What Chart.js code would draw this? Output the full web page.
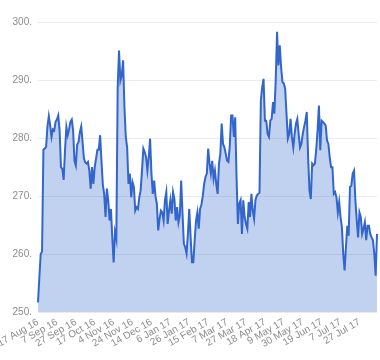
<!DOCTYPE html>
<html>
<head>
<meta charset="utf-8">
<script src="https://cdn.jsdelivr.net/npm/chart.js@4/dist/chart.umd.min.js"></script>
<style>
html,body{margin:0;padding:0;background:#fff;}
canvas{display:block;}
</style>
</head>
<body>
<canvas id="c" width="380" height="360"></canvas>
<script>
// Tick labels shown every 14 trading days
const tickLabels = ["17 Aug 16","7 Sep 16","27 Sep 16","17 Oct 16","4 Nov 16","24 Nov 16","14 Dec 16","6 Jan 17","26 Jan 17","15 Feb 17","7 Mar 17","27 Mar 17","18 Apr 17","9 May 17","30 May 17","19 Jun 17","7 Jul 17","27 Jul 17"];
const tickEvery = 14;

// Daily close values
const prices = [
251.7,256,260,260.5,278,278.2,278.5,282,283.8,282.2,
280.2,281.5,281.3,282.8,283.2,283.9,281.3,275,274.7,272.8,
277.9,281.9,280.5,281.5,282.8,283.2,281.3,276.1,275.3,278.9,
279.3,281,282,279.3,276.5,275.8,275.6,275.9,274.4,271.3,
275,272.1,275,276.5,278,278,280.5,276.1,272,270.4,
266.4,271.3,269.3,265.8,267.8,262.9,258.6,263.8,262.6,288.8,
295.1,289.9,290.8,293.4,285.3,280.2,278.4,272.1,273.9,269.8,
272.4,271.6,267.5,268.1,267.8,269.8,271,274.4,278.2,277.6,
276.7,274.4,276.7,279.9,273.9,270.4,272.7,270,268.7,264.1,
266.1,267.5,267.2,265.8,269.3,270.7,265.2,267.5,269.3,267,
270.7,269.5,265.8,268.1,265.5,266.7,272.7,267,261.8,261.2,
260.1,263.5,267.8,262.9,258.6,258.6,262.4,265.8,267.2,264.4,
267.8,268.5,270,272.1,273.3,273.9,278.2,275.6,273.9,276.1,
273,274.4,272.1,270.4,275.6,277.3,282.5,279,278.4,277.3,
276.1,275.9,278.7,283.9,283.9,280.2,283.6,273.3,265.2,268.7,
269.3,263.5,269.3,266.4,265.2,264.4,269,266.4,270.4,267.5,
266.1,269.3,270.1,270.4,270.6,286.5,288.8,290.2,283,283,
280.7,280.2,283,283.3,286.2,284.2,289.9,298.3,292.5,296,
292.2,289.7,289.4,288.5,284.2,279.9,280.7,283.3,280.2,278.4,
280.7,282.5,283.3,280.7,278.4,279,280.7,281.9,283,284.5,
276.7,271,269.5,275.6,275.3,275.6,278,281.3,285.6,277.9,
283,282.8,282.5,282.2,279.6,279,276.7,275,275,270.4,
270.7,269.8,267.2,269,266.4,264.7,260.1,257.2,261.2,264.9,
263.2,271.6,271.8,273.9,274.4,269.3,265.8,262.9,267.2,266.4,
263.5,264.4,265.5,262.4,264.9,264.9,263.5,262.9,262.4,260.1,
256.3,263.5
];

const categories = prices.map((_, i) => i);
const labelFor = i => (i % tickEvery === 0 && tickLabels[i / tickEvery] !== undefined) ? tickLabels[i / tickEvery] : '';

const FONT = '"Liberation Sans", Arial, sans-serif';
new Chart(document.getElementById('c'), {
  type: 'line',
  data: {
    labels: categories,
    datasets: [{
      data: prices,
      borderColor: '#3366cc',
      backgroundColor: 'rgba(51,102,204,0.3)',
      borderWidth: 2,
      fill: 'start',
      pointRadius: 0,
      tension: 0
    }]
  },
  options: {
    responsive: false,
    animation: false,
    layout: { padding: { top: 22, right: 3, bottom: 6, left: 0 } },
    plugins: { legend: { display: false }, tooltip: { enabled: false } },
    scales: {
      x: {
        offset: false,
        grid: { display: false, drawTicks: false },
        border: { display: false },
        afterFit: s => { s.paddingLeft = 0; s.paddingRight = 0; },
        ticks: {
          autoSkip: false,
          minRotation: 30,
          maxRotation: 30,
          padding: 4,
          color: '#8c8c8c',
          font: { family: FONT, size: 10 },
          callback: (v, i) => labelFor(i)
        }
      },
      y: {
        min: 250,
        max: 300,
        grid: { color: '#ebebeb', drawTicks: false },
        border: { display: false },
        afterFit: s => { s.width = 38; },
        ticks: {
          stepSize: 10,
          padding: 6,
          color: '#8c8c8c',
          font: { family: FONT, size: 10 },
          callback: v => v + '.'
        }
      }
    }
  }
});
</script>
</body>
</html>
